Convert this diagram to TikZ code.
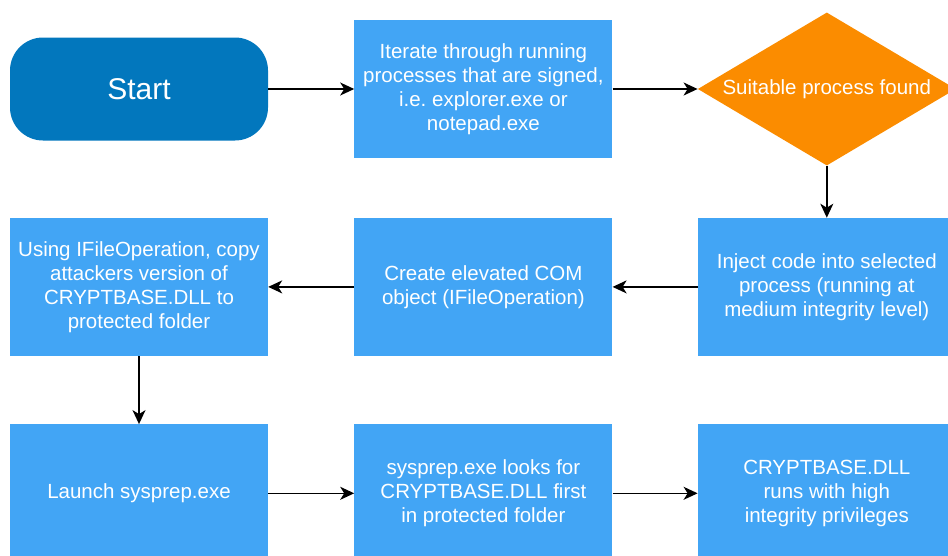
\documentclass[tikz,border=0pt]{standalone}
\usepackage{fontspec}
\setmainfont{Liberation Sans}
\usetikzlibrary{arrows.meta,positioning,shapes.geometric}
\definecolor{startblue}{HTML}{0277BD}
\definecolor{stepblue}{HTML}{42A5F5}
\definecolor{decorange}{HTML}{FB8C00}

\begin{document}
\begin{tikzpicture}[
      x=1pt,y=-1pt,
      >={Stealth[length=14pt,width=13pt,inset=4pt]},
      node distance=86pt,
      startbox/.style={rounded corners=33pt,fill=startblue,text=white,minimum width=258pt,minimum height=103pt,inner sep=0pt,font=\fontsize{30}{34}\selectfont},
      stepbox/.style={fill=stepblue,text=white,align=center,minimum width=258pt,minimum height=138pt,inner sep=0pt,font=\fontsize{20.5}{24}\selectfont},
      decbox/.style={diamond,aspect=1.686,fill=decorange,text=white,minimum width=258pt,minimum height=153pt,inner sep=0pt,font=\fontsize{20.5}{24}\selectfont},
      flow/.style={->,line width=1.5pt,black}]
    \useasboundingbox (0,0) rectangle (948,555);
    % top row
    \node[startbox] (start) at (139,89) {Start};
    \node[stepbox,right=86pt of start] (iter)
      {Iterate through running\\ processes that are signed,\\ i.e.\ explorer.exe or\\ notepad.exe};
    \node[decbox,right=85pt of iter] (found) {Suitable process found};
    % middle row
    \node[stepbox,below=52pt of found] (inject)
      {Inject code into selected\\ process (running at\\ medium integrity level)};
    \node[stepbox,left=85pt of inject] (com)
      {Create elevated COM\\ object (IFileOperation)};
    \node[stepbox,left=86pt of com] (copy)
      {Using IFileOperation, copy\\ attackers version of\\ CRYPTBASE.DLL to\\ protected folder};
    % bottom row
    \node[stepbox,below=68pt of copy] (launch) {Launch sysprep.exe};
    \node[stepbox,right=86pt of launch] (looks)
      {sysprep.exe looks for\\ CRYPTBASE.DLL first\\ in protected folder};
    \node[stepbox,right=85pt of looks] (runs)
      {CRYPTBASE.DLL\\ runs with high\\ integrity privileges};
    \draw[flow] (start) -- (iter);
    \draw[flow] (iter) -- (found);
    \draw[flow] (found) -- (inject);
    \draw[flow] (inject) -- (com);
    \draw[flow] (com) -- (copy);
    \draw[flow] (copy) -- (launch);
    \draw[flow] (launch) -- (looks);
    \draw[flow] (looks) -- (runs);
  \end{tikzpicture}
\end{document}
